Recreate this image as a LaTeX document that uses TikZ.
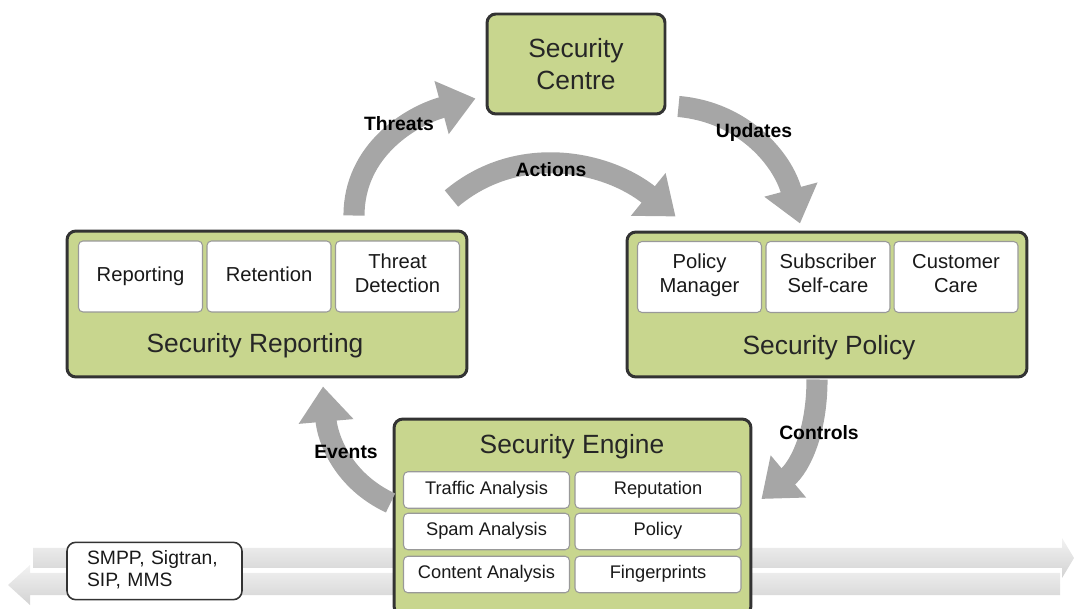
\documentclass[tikz,border=0pt]{standalone}
\usepackage{fontspec}
\setmainfont{Liberation Sans}
\usetikzlibrary{arrows.meta,calc}
\definecolor{boxgreen}{RGB}{200,214,142}
\definecolor{boxline}{RGB}{51,51,51}
\definecolor{flowgray}{RGB}{166,166,166}
\begin{document}
\begin{tikzpicture}[x=0.02cm, y=0.02cm,
    outerbox/.style={draw=boxline, line width=1.7pt, fill=boxgreen, rounded corners=5pt},
    innerbox/.style={draw=gray!80, line width=0.6pt, fill=white, rounded corners=2.5pt,
      align=center, text=black!90, font=\fontsize{11.5}{13.6}\selectfont,
      execute at begin node=\strut, execute at end node=\strut,
      minimum width=2.48cm, minimum height=1.42cm},
    enginebox/.style={innerbox, font=\fontsize{10.4}{12}\selectfont,
      minimum width=3.32cm, minimum height=0.73cm},
    biglabel/.style={font=\fontsize{15}{18}\selectfont, text=black!85, align=center},
    flow/.style={draw=flowgray, line width=12pt, -{Triangle[length=20pt,width=30pt]}},
    flowlabel/.style={font=\bfseries\fontsize{11}{13}\selectfont}]
  \useasboundingbox (0,0) rectangle (1074,608);
  % message bus
  \shade[top color=gray!10, bottom color=gray!35] (33,40) -- (1062,40) -- (1062,30)
    -- (1074,50) -- (1062,70) -- (1062,60) -- (33,60) -- cycle;
  \shade[top color=gray!10, bottom color=gray!35] (1060,13) -- (30,13) -- (30,3)
    -- (8,23) -- (30,43) -- (30,35) -- (1060,35) -- cycle;
  % boxes
  \node[outerbox, biglabel, minimum width=3.56cm, minimum height=2cm] (centre) at (576,544) {Security\\Centre};
  \node[outerbox, minimum width=8cm, minimum height=2.92cm] (rep) at (267,304) {};
  \node[biglabel] (replabel) at (255,262) {Security Reporting};
  \foreach \x/\name/\txt in {140.5/reporting/Reporting, 269/retention/Retention, 397.5/threatdet/{Threat\\Detection}}
    \node[innerbox] (\name) at (\x,331.5) {\txt};
  \node[outerbox, minimum width=8cm, minimum height=2.9cm] (pol) at (827,303.5) {};
  \node[biglabel] (pollabel) at (829,260) {Security Policy};
  \foreach \x/\name/\txt in {699.5/polman/{Policy\\Manager}, 828/selfcare/{Subscriber\\Self-care}, 956/custcare/{Customer\\Care}}
    \node[innerbox] (\name) at (\x,331) {\txt};
  \node[outerbox, minimum width=7.14cm, minimum height=3.92cm] (eng) at (572.5,91) {};
  \node[biglabel] (englabel) at (572,161) {Security Engine};
  \foreach \y/\lname/\ltxt/\rname/\rtxt in {118/traffic/Traffic Analysis/reputation/Reputation,
      76.5/spam/Spam Analysis/policy/Policy, 33.5/content/Content Analysis/finger/Fingerprints}
  { \node[enginebox] (\lname) at (486.5,\y) {\ltxt};
    \node[enginebox] (\rname) at (658,\y) {\rtxt};}
  \node[innerbox, draw=boxline, line width=0.9pt, rounded corners=5pt, align=left,
    text width=2.7cm, inner xsep=0.4cm, minimum width=3.5cm, minimum height=1.12cm,
    font=\fontsize{11}{13}\selectfont] (proto) at (154.5,37) {SMPP, Sigtran,\\SIP, MMS};
  % flows
  \draw[flow] ($(rep.north)+(87,14)$) to[out=90,in=195] ($(centre.south west)+(-10,17)$);
  \draw[flow] ($(centre.south east)+(12,9)$) to[out=-5,in=105] ($(pol.north)+(-27,7)$);
  \draw[flow] ($(rep.north east)+(-17,31)$) to[out=40,in=141] ($(pol.north west)+(50,14)$);
  \draw[flow] ($(pol.south)+(-10,-1)$) to[out=-90,in=40] ($(eng.east)+(9,18)$);
  \draw[flow] ($(eng.west)+(-2,14)$) to[out=155,in=-85] ($(rep.south)+(56,-8)$);
  \node[flowlabel] (threats) at (399,484) {Threats};
  \node[flowlabel] (updates) at (754,475) {Updates};
  \node[flowlabel] (actions) at (551,438) {Actions};
  \node[flowlabel] (controls) at (819,175) {Controls};
  \node[flowlabel] (events) at (346,156) {Events};
\end{tikzpicture}
\end{document}
